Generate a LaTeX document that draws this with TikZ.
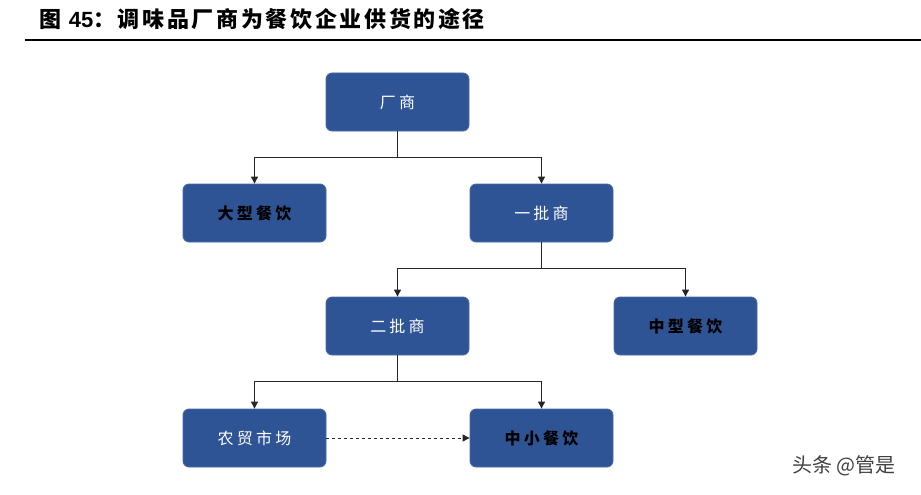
\documentclass[tikz,border=0pt]{standalone}
\usepackage{fontspec}
\setmainfont{Liberation Sans}
\newfontfamily\cjk{Noto Sans CJK SC}
\newfontfamily\cjkt{Noto Sans CJK SC}[LetterSpace=12]
\newfontfamily\cjkb{Noto Sans CJK SC}[LetterSpace=20]
\usetikzlibrary{arrows.meta}
\definecolor{boxblue}{RGB}{47,84,150}
\definecolor{boxedge}{RGB}{70,105,165}
\begin{document}
\begin{tikzpicture}[x=1pt,y=-1pt,
  box/.style={draw=boxedge, line width=0.8pt, fill=boxblue, rounded corners=6pt,
    minimum width=143pt, minimum height=58pt, inner sep=0pt},
  wtext/.style={text=white, font=\cjkb\fontsize{16}{16}\selectfont},
  btext/.style={text=black, font=\cjkb\bfseries\fontsize{16}{16}\selectfont},
  conn/.style={draw=black!85, line width=0.9pt, -{Triangle[length=7pt,width=7pt]}},
  dconn/.style={conn, dashed},
]
\useasboundingbox (0,0) rectangle (921,495);
\fill[white] (0,0) rectangle (921,495);

% title
\node[anchor=west, inner sep=0pt, font=\cjkt\bfseries\fontsize{22}{22}\selectfont] (title) at (39,19)
  {图 {\normalfont\bfseries\fontsize{22}{22}\selectfont 45}：调味品厂商为餐饮企业供货的途径};
\draw[line width=2pt] (25,40) coordinate (r1) -- (921,40) coordinate (r2);

% boxes
\node[box, wtext] (cs) at (397.5,102) {厂商};
\node[box, btext] (dx) at (254.5,213) {大型餐饮};
\node[box, wtext] (yp) at (541.5,213) {一批商};
\node[box, wtext] (ep) at (397.5,326) {二批商};
\node[box, btext] (zx) at (685.5,326) {中型餐饮};
\node[box, wtext] (nm) at (254.5,438) {农贸市场};
\node[box, btext] (zs) at (541.5,438) {中小餐饮};

% connectors
\draw[conn] (cs.south) -- ++(0,26) -| (dx.north);
\draw[conn] (cs.south) -- ++(0,26) -| (yp.north);
\draw[conn] (yp.south) -- ++(0,26) -| (ep.north);
\draw[conn] (yp.south) -- ++(0,26) -| (zx.north);
\draw[conn] (ep.south) -- ++(0,26) -| (nm.north);
\draw[conn] (ep.south) -- ++(0,26) -| (zs.north);
\draw[dconn] (nm.east) -- (zs.west);

% watermark
\node[anchor=center, text=black!75, font=\cjk\fontsize{20}{20}\selectfont] (wm) at (844,466) {头条 @管是};
\end{tikzpicture}
\end{document}
